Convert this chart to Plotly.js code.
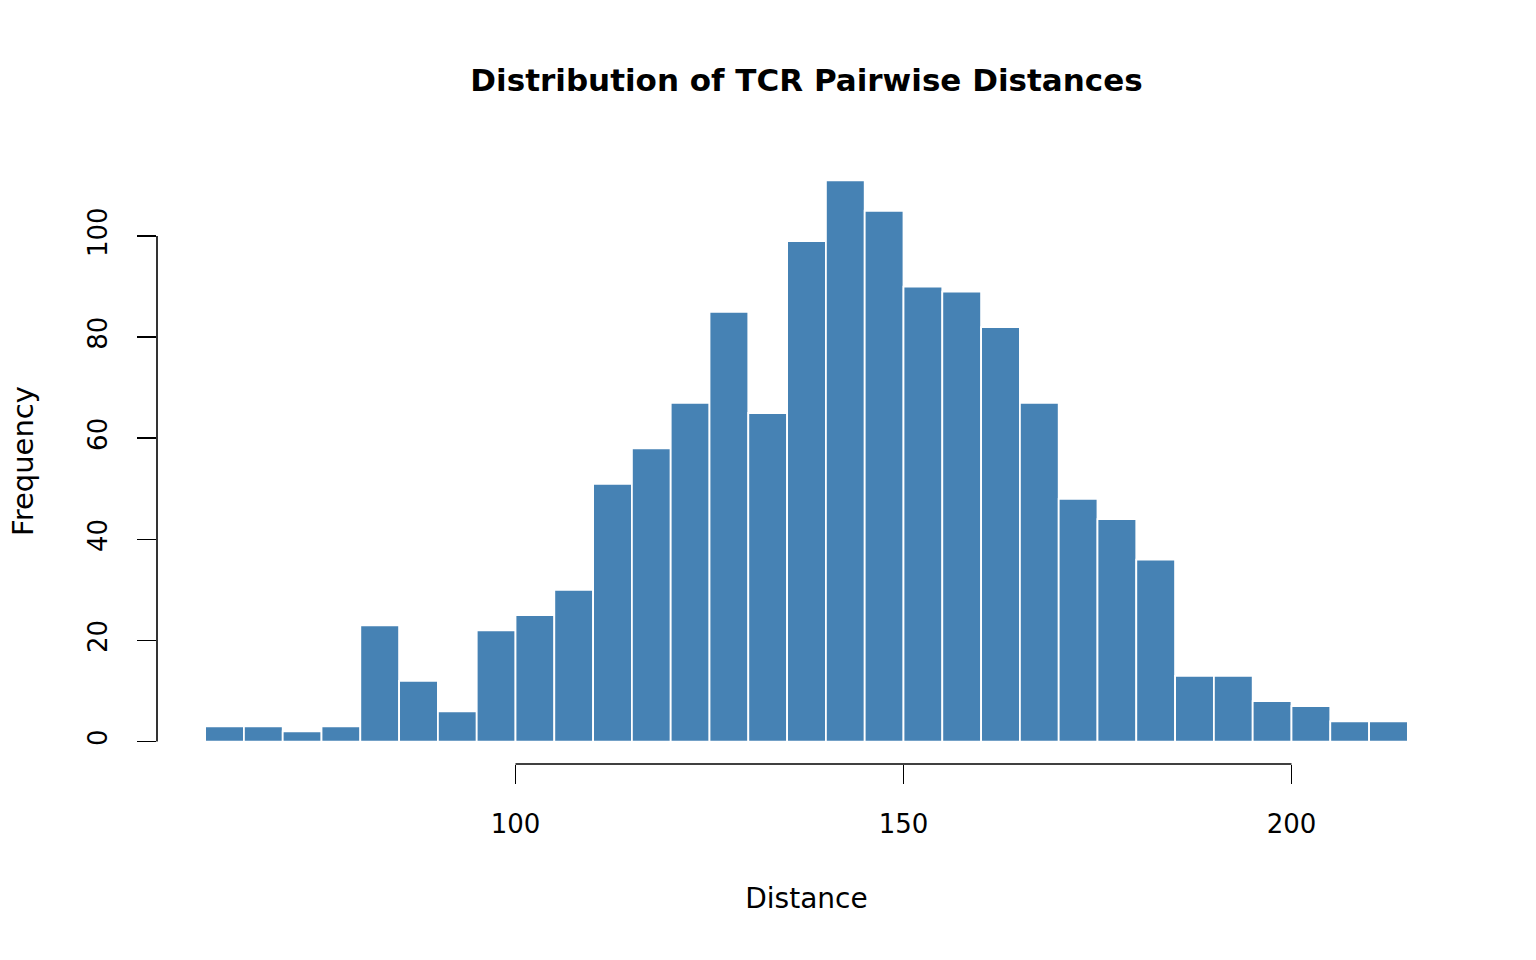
<!DOCTYPE html>
<html>
<head>
<meta charset="utf-8">
<script src="https://cdn.plot.ly/plotly-3.0.1.min.js"></script>
<style>html,body{margin:0;padding:0;background:#fff;}#chart{width:1536px;height:960px;}</style>
</head>
<body>
<div id="chart"></div>
<script>
// Histogram bins: left edge of first bin and bin width
const binStart = 60;
const binWidth = 5;
// Counts per bin (60-65, 65-70, ..., 210-215)
const counts = [3, 3, 2, 3, 23, 12, 6, 22, 25, 30, 51, 58, 67, 85, 65, 99, 111, 105, 90, 89, 82, 67, 48, 44, 36, 13, 13, 8, 7, 4, 4];
const xTicks = [100, 150, 200];
const yTicks = [0, 20, 40, 60, 80, 100];

const centers = counts.map((_, i) => binStart + binWidth * (i + 0.5));
const binEnd = binStart + binWidth * counts.length;
const maxCount = Math.max(...counts);
// R-style 4% axis extension
const xPad = (binEnd - binStart) * 0.04;
const yPad = maxCount * 0.04;

const FONT = "DejaVu Sans, sans-serif";

const trace = {
  type: 'bar',
  x: centers,
  y: counts,
  width: counts.map(() => binWidth),
  marker: { color: '#4682B4', line: { color: '#ffffff', width: 1.8 } },
  hoverinfo: 'x+y'
};

const layout = {
  width: 1536,
  height: 960,
  paper_bgcolor: '#ffffff',
  plot_bgcolor: '#ffffff',
  showlegend: false,
  bargap: 0,
  margin: { l: 157, r: 80, t: 158, b: 196 },
  font: { family: FONT, size: 26, color: '#000000' },
  title: {
    text: '<b>Distribution of TCR Pairwise Distances</b>',
    font: { family: FONT, size: 31, color: '#000000' },
    x: 0.5, xref: 'paper', xanchor: 'center',
    y: 1 - 80 / 960, yref: 'container', yanchor: 'middle'
  },
  xaxis: {
    range: [binStart - xPad, binEnd + xPad],
    tickmode: 'array',
    tickvals: xTicks,
    ticktext: xTicks.map(String),
    ticks: 'outside',
    ticklen: 19,
    tickwidth: 1.6,
    tickcolor: '#000000',
    ticklabelstandoff: 18,
    showline: false,
    showgrid: false,
    zeroline: false,
    tickfont: { family: FONT, size: 26 },
    title: { text: 'Distance', font: { family: FONT, size: 28 }, standoff: 50 },
    automargin: false
  },
  yaxis: {
    range: [-yPad, maxCount + yPad],
    tickmode: 'array',
    tickvals: yTicks,
    ticktext: yTicks.map(String),
    ticks: 'outside',
    ticklen: 19,
    tickwidth: 1.6,
    tickcolor: '#000000',
    tickangle: -90,
    ticklabelstandoff: 20,
    showline: false,
    showgrid: false,
    zeroline: false,
    tickfont: { family: FONT, size: 26 },
    title: { text: 'Frequency', font: { family: FONT, size: 29 }, standoff: 40 },
    automargin: false
  },
  shapes: [
    { type: 'line', xref: 'x', yref: 'paper', x0: xTicks[0], x1: xTicks[xTicks.length - 1], y0: 0, y1: 0,
      line: { color: '#000000', width: 1.6 } },
    { type: 'line', xref: 'paper', yref: 'y', x0: 0, x1: 0, y0: yTicks[0], y1: yTicks[yTicks.length - 1],
      line: { color: '#000000', width: 1.6 } }
  ]
};

Plotly.newPlot('chart', [trace], layout, { staticPlot: true, displayModeBar: false });
</script>
</body>
</html>
